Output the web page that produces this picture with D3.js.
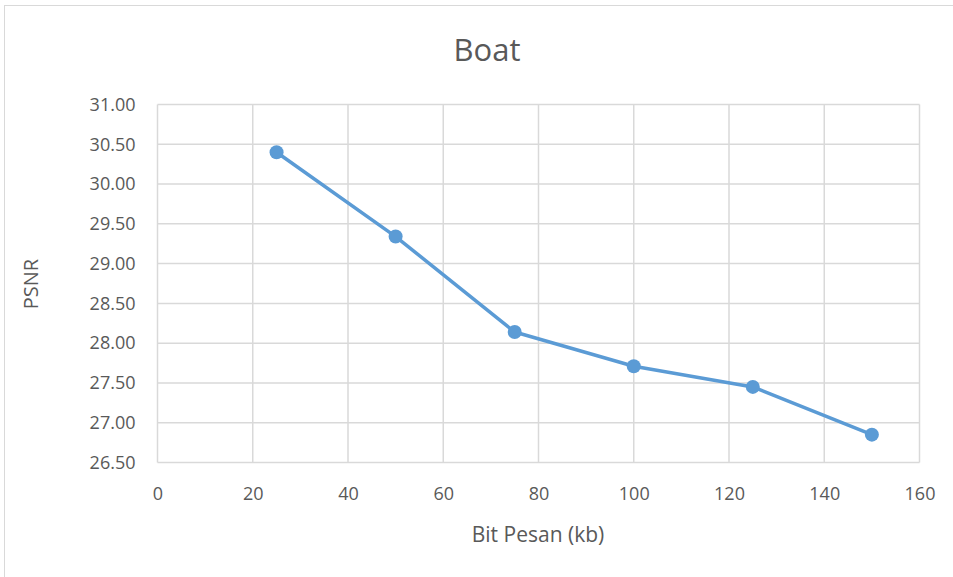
<!DOCTYPE html>
<html>
<head>
<meta charset="utf-8">
<script src="https://cdn.jsdelivr.net/npm/d3@7/dist/d3.min.js"></script>
<style>
  html, body { margin: 0; padding: 0; background: #fff; }
  svg { display: block; font-family: "Open Sans", sans-serif; }
</style>
</head>
<body>
<svg id="chart" width="953" height="577"></svg>
<script>
// PSNR of the "Boat" image versus embedded message size
const bitPesan = [25, 50, 75, 100, 125, 150];
const psnr = [30.40, 29.34, 28.14, 27.71, 27.45, 26.85];
const xTicks = [0, 20, 40, 60, 80, 100, 120, 140, 160];
const yTicks = [26.5, 27, 27.5, 28, 28.5, 29, 29.5, 30, 30.5, 31];

const svg = d3.select("#chart");
const W = 953, H = 577;
const plot = { left: 157.5, right: 919.5, top: 104.5, bottom: 462.5 };

// outer chart frame
svg.append("rect")
  .attr("x", 4.5).attr("y", 5.5)
  .attr("width", W + 10).attr("height", H + 10)
  .attr("fill", "#fff").attr("stroke", "#d9d9d9").attr("stroke-width", 1);

const x = d3.scaleLinear().domain([0, 160]).range([plot.left, plot.right]);
const y = d3.scaleLinear().domain([26.5, 31]).range([plot.bottom, plot.top]);

const gridColor = "#d9d9d9";
const textColor = "#595959";

// gridlines
svg.append("g").selectAll("line").data(xTicks).join("line")
  .attr("x1", d => x(d)).attr("x2", d => x(d))
  .attr("y1", plot.top).attr("y2", plot.bottom)
  .attr("stroke", gridColor).attr("stroke-width", 1.5);
svg.append("g").selectAll("line").data(yTicks).join("line")
  .attr("x1", plot.left).attr("x2", plot.right)
  .attr("y1", d => y(d)).attr("y2", d => y(d))
  .attr("stroke", gridColor).attr("stroke-width", 1.5);

// axes (labels only; lines come from the grid)
const xAxis = svg.append("g")
  .attr("transform", `translate(0,${plot.bottom})`)
  .call(d3.axisBottom(x).tickValues(xTicks).tickSize(0).tickPadding(25).tickFormat(d3.format("d")));
const yAxis = svg.append("g")
  .attr("transform", `translate(${plot.left},0)`)
  .call(d3.axisLeft(y).tickValues(yTicks).tickSize(0).tickPadding(22).tickFormat(d3.format(".2f")));
[xAxis, yAxis].forEach(g => {
  g.select(".domain").remove();
  g.selectAll("text")
    .attr("fill", textColor)
    .style("font-size", "18px")
    .style("font-family", "'Open Sans', sans-serif");
});

// series line and markers
const line = d3.line().x((d, i) => x(bitPesan[i])).y(d => y(d));
svg.append("path")
  .datum(psnr)
  .attr("d", line)
  .attr("fill", "none")
  .attr("stroke", "#5b9bd5")
  .attr("stroke-width", 3.5)
  .attr("stroke-linejoin", "round");
svg.append("g").selectAll("circle").data(psnr).join("circle")
  .attr("cx", (d, i) => x(bitPesan[i]))
  .attr("cy", d => y(d))
  .attr("r", 7)
  .attr("fill", "#5b9bd5");

// titles
svg.append("text")
  .attr("x", 487).attr("y", 61)
  .attr("text-anchor", "middle")
  .attr("fill", textColor)
  .style("font-size", "31px")
  .text("Boat");
svg.append("text")
  .attr("x", 538).attr("y", 542)
  .attr("text-anchor", "middle")
  .attr("fill", textColor)
  .style("font-size", "21px")
  .text("Bit Pesan (kb)");
svg.append("text")
  .attr("transform", "translate(38,284) rotate(-90)")
  .attr("text-anchor", "middle")
  .attr("fill", textColor)
  .style("font-size", "20px")
  .text("PSNR");
</script>
</body>
</html>
